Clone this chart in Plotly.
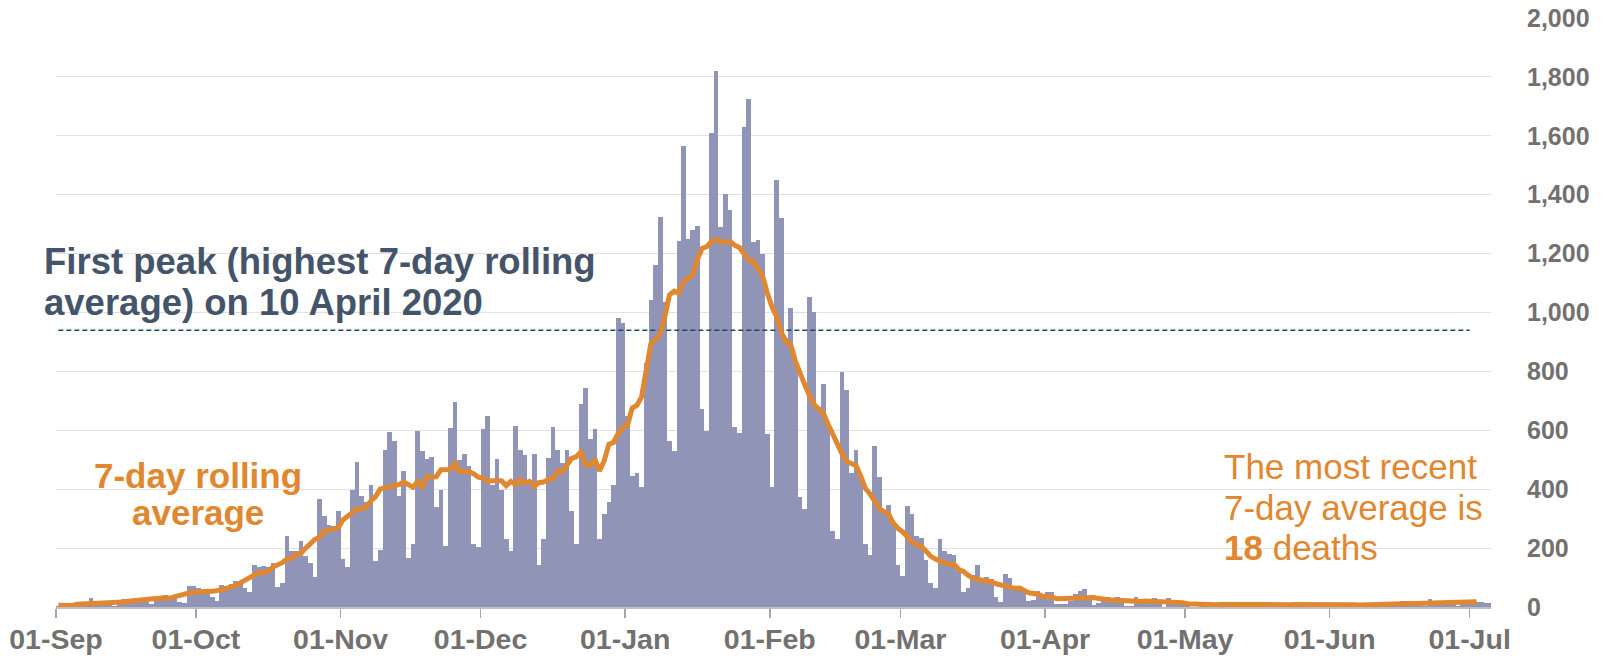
import pandas as pd
import plotly.graph_objects as go

# ---------------- data (daily deaths, by date reported) ----------------
aug_tail = [12, 1, 1]  # 29-31 Aug 2020
sep = [3, 3, 10, 12, 2, 2, 3, 32, 8, 14,
       6, 9, 5, 9, 27, 20, 21, 27, 27, 18,
       11, 37, 37, 40, 34, 34, 17, 13, 71, 71]
oct_ = [66, 59, 49, 33, 19, 76, 70, 77, 87, 81,
        65, 50, 143, 137, 138, 136, 150, 67, 80, 241,
        191, 189, 224, 174, 151, 102, 367, 310, 280, 274,
        326]
nov = [162, 136, 397, 492, 378, 355, 413, 156, 194, 532,
       595, 563, 376, 462, 168, 213, 598, 529, 501, 511,
       341, 398, 206, 608, 696, 498, 521, 479, 215, 205]
dec = [603, 648, 414, 504, 397, 231, 189, 616, 533, 516,
       424, 519, 144, 232, 506, 612, 532, 489, 534, 326,
       215, 691, 744, 570, 604, 230, 316, 357, 414, 981,
       964]
jan = [650, 445, 454, 407, 830, 1041, 1162, 1325, 1035, 563,
       529, 1243, 1564, 1248, 1280, 1295, 671, 599, 1610, 1820,
       1290, 1401, 1348, 610, 592, 1631, 1725, 1239, 1245, 1200,
       587]
feb = [406, 1449, 1322, 915, 1014, 828, 373, 333, 1052, 1001,
       678, 758, 621, 258, 230, 799, 738, 454, 533, 445,
       215, 178, 548, 442, 323, 345, 290, 144]
mar = [104, 343, 315, 242, 236, 158, 82, 65, 231, 190,
       181, 175, 121, 52, 64, 110, 141, 95, 101, 96,
       33, 17, 112, 98, 70, 70, 58, 19, 23, 56,
       43]
apr = [51, 52, 10, 10, 11, 20, 45, 53, 60, 34,
       7, 13, 23, 33, 30, 34, 32, 4, 4, 33,
       22, 16, 18, 32, 19, 1, 29, 22, 15, 21]
may = [15, 1, 1, 4, 13, 13, 15, 3, 3, 4,
       11, 9, 11, 17, 7, 4, 5, 7, 9, 7,
       10, 12, 0, 1, 14, 10, 10, 12, 6, 6,
       0]
jun = [3, 12, 12, 11, 8, 4, 1, 6, 13, 7,
       17, 12, 7, 3, 9, 19, 19, 11, 10, 6,
       5, 27, 19, 16, 18, 18, 11, 3, 23, 14]
jul = [22, 18, 18, 15, 15]

months = [aug_tail, sep, oct_, nov, dec, jan, feb, mar, apr, may, jun, jul]
expected = [3, 30, 31, 30, 31, 31, 28, 31, 30, 31, 30, 5]
for m, n in zip(months, expected):
    assert len(m) == n, (len(m), n)

daily = [v for m in months for v in m]
first_day = "2020-08-29"
FIRST_PEAK_AVG = 940  # highest 7-day rolling average, 10 April 2020

y_ticks = [0, 200, 400, 600, 800, 1000, 1200, 1400, 1600, 1800, 2000]

# ---------------- derived ----------------
dates = pd.date_range(first_day, periods=len(daily), freq="D")
centers = dates + pd.Timedelta(hours=12)
avg7 = pd.Series(daily, dtype=float).rolling(7, center=True).mean()

BAR = "#9095B8"
ORANGE = "#E08730"
SLATE = "#44546A"
DASH = "#1D4A5C"
TICK = "#737070"
FONT = "Arial, Liberation Sans, sans-serif"

fig = go.Figure()
fig.add_trace(go.Bar(x=centers, y=daily, width=86400000,
                     marker=dict(color=BAR, line=dict(width=0)),
                     hoverinfo="skip"))
fig.add_trace(go.Scatter(x=[pd.Timestamp("2020-09-01 12:00"), pd.Timestamp("2021-07-01 00:00")],
                         y=[FIRST_PEAK_AVG, FIRST_PEAK_AVG], mode="lines",
                         line=dict(color=DASH, width=1.5, dash="5px,3px"),
                         hoverinfo="skip"))
fig.add_trace(go.Scatter(x=centers, y=avg7, mode="lines",
                         line=dict(color=ORANGE, width=5),
                         hoverinfo="skip"))

# plot area geometry (pixels) used only for placing text
L, R, T, B = 56, 1491, 18, 607


def fx(px):
    return (px - L) / (R - L)


def fy(py):
    return (B - py) / (B - T)


ann = []


def add(text, x, y, size, color, xanchor, bold=False):
    ann.append(dict(text=(f"<b>{text}</b>" if bold else text), x=fx(x), y=fy(y),
                    xref="paper", yref="paper", xanchor=xanchor, yanchor="middle",
                    showarrow=False, font=dict(family=FONT, size=size, color=color),
                    align="left"))


add("First peak (highest 7-day rolling", 42, 261, 36.5, SLATE, "left", True)
add("average) on 10 April 2020", 42, 302, 36.5, SLATE, "left", True)
add("7-day rolling", 198, 475, 35, ORANGE, "center", True)
add("average", 198, 512, 35, ORANGE, "center", True)
add("The most recent", 1222, 466, 35, ORANGE, "left")
add("7-day average is", 1222, 507, 35, ORANGE, "left")
add("<b>18</b> deaths", 1222, 547, 35, ORANGE, "left")

fig.update_layout(
    width=1601, height=657,
    margin=dict(l=L, r=1601 - R, t=T, b=657 - B, autoexpand=False),
    paper_bgcolor="white", plot_bgcolor="white",
    showlegend=False, bargap=0,
    annotations=ann,
    font=dict(family=FONT),
)
fig.update_xaxes(
    range=[pd.Timestamp("2020-09-01 00:00"), pd.Timestamp("2021-07-05 14:00")],
    type="date", tick0="2020-09-01", dtick="M1", tickformat="%d-%b",
    ticks="outside", ticklen=9, tickwidth=1.5, tickcolor="#A6A6A6",
    showline=True, linecolor="#BFBFBF", linewidth=2,
    showgrid=False, zeroline=False, automargin=False,
    ticklabelstandoff=-3,
    tickfont=dict(family=FONT, size=28.5, color=TICK, weight="bold"),
    layer="above traces",
)
fig.update_yaxes(
    range=[0, 2000], side="right", tickvals=y_ticks, tickformat=",",
    showgrid=True, gridcolor="rgba(200,200,200,0.55)", gridwidth=1,
    zeroline=False, showline=False, ticks="", automargin=False,
    ticklabelstandoff=35,
    tickfont=dict(family=FONT, size=25, color=TICK, weight="bold"),
    layer="above traces",
)

fig.write_html("out.html",
               config={"displayModeBar": False, "staticPlot": True},
               post_script="document.body.style.margin='0';document.body.style.overflow='hidden';")
